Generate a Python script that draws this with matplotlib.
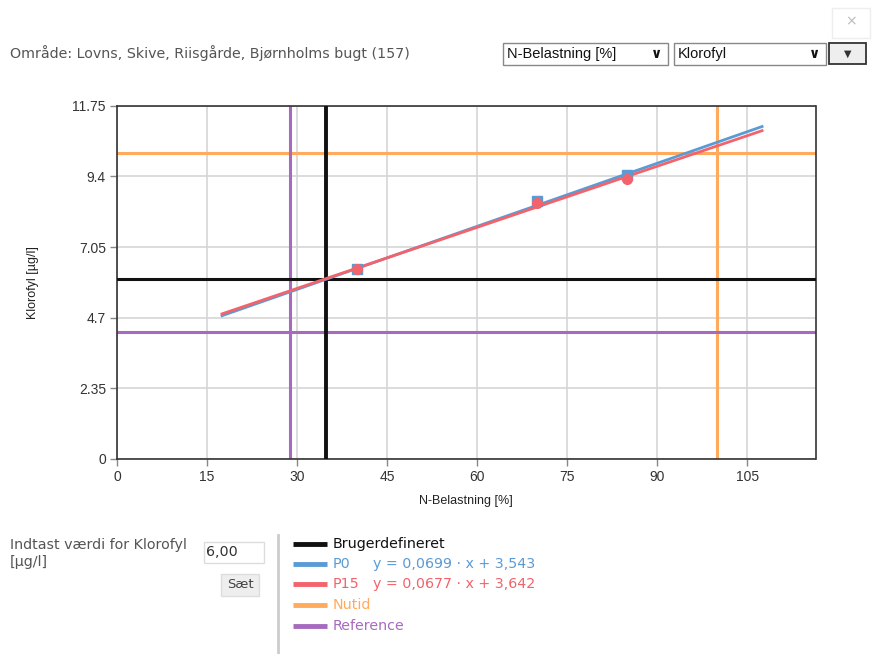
import matplotlib
matplotlib.use("Agg")
import matplotlib.pyplot as plt
from matplotlib.patches import Rectangle
from matplotlib.lines import Line2D
import numpy as np

# ---- data ----
x_ticks = [0, 15, 30, 45, 60, 75, 90, 105]
y_ticks = [0, 2.35, 4.7, 7.05, 9.4, 11.75]
y_tick_labels = ["0", "2.35", "4.7", "7.05", "9.4", "11.75"]
x_max = 116.4
y_max = 11.75

point_x = [40, 70, 85]
p0_points = [6.33, 8.59, 9.44]
p15_points = [6.32, 8.51, 9.31]

p0_coef = (0.0699, 3.543)
p15_coef = (0.0677, 3.642)
line_x_range = [17.5, 107.5]

brugerdef_x = 34.9
brugerdef_y = 6.0
nutid_x = 100.0
nutid_y = 10.17
reference_x = 28.8
reference_y = 4.21

C_BLACK = "#111111"
C_P0 = "#5b9bd5"
C_P15 = "#f2636b"
C_NUTID = "#ffaa5c"
C_REF = "#a66bbe"

narrow = "Liberation Sans"
ui_font = "DejaVu Sans"
UI_SIZE = 10.3

W, H = 872, 654
fig = plt.figure(figsize=(W / 100, H / 100), dpi=100)

def fx(px):
    return px / W

def fy(py):
    return 1 - py / H

ax = fig.add_axes([fx(117), fy(459), fx(815.5) - fx(117), fy(105.7) - fy(459)])
ax.set_xlim(0, x_max)
ax.set_ylim(0, y_max)
ax.set_xticks(x_ticks)
ax.set_yticks(y_ticks)
ax.set_yticklabels(y_tick_labels)
ax.grid(True, color="#d6d6d6", linewidth=1.2, zorder=0)
for s in ax.spines.values():
    s.set_color("#333333")
    s.set_linewidth(1.2)
ax.tick_params(axis="both", colors="#888888", labelcolor="#333333", length=5, width=1,
               labelsize=10, pad=3)
for lab in ax.get_xticklabels() + ax.get_yticklabels():
    lab.set_fontfamily(narrow)

# reference lines
ax.axhline(nutid_y, color=C_NUTID, lw=2.2, zorder=2)
ax.axvline(nutid_x, color=C_NUTID, lw=2.2, zorder=2)
ax.axhline(reference_y, color=C_REF, lw=2.2, zorder=2)
ax.axvline(reference_x, color=C_REF, lw=2.2, zorder=2)
ax.axhline(brugerdef_y, color=C_BLACK, lw=2.2, zorder=3)
ax.axvline(brugerdef_x, color=C_BLACK, lw=2.8, zorder=3)

# regression lines
lx = np.array(line_x_range)
ax.plot(lx, p0_coef[0] * lx + p0_coef[1], color=C_P0, lw=2.0, zorder=4)
ax.plot(lx, p15_coef[0] * lx + p15_coef[1], color=C_P15, lw=2.0, zorder=5)
ax.plot(point_x, p0_points, ls="none", marker="s", ms=7, color=C_P0, zorder=6)
ax.plot(point_x, p15_points, ls="none", marker="o", ms=7, color=C_P15, zorder=7)

ax.set_xlabel("N-Belastning [%]", fontfamily=narrow, fontsize=9, color="#222222", labelpad=8)
ax.set_ylabel("Klorofyl [µg/l]", fontfamily=narrow, fontsize=9, color="#222222", labelpad=24)

# ---- header ----
fig.text(fx(10), fy(53), "Område: Lovns, Skive, Riisgårde, Bjørnholms bugt (157)",
         fontfamily=ui_font, fontsize=UI_SIZE, color="#555555", va="center", ha="left")

def box(x0, y0, x1, y1, ec="#888888", fc="white", lw=1.0):
    r = Rectangle((fx(x0), fy(y1)), fx(x1) - fx(x0), fy(y0) - fy(y1),
                  transform=fig.transFigure, ec=ec, fc=fc, lw=lw)
    fig.add_artist(r)

box(503, 43, 668, 65)
fig.text(fx(507), fy(54), "N-Belastning [%]", fontfamily=narrow, fontsize=10.5, color="#111111", va="center")
fig.text(fx(657), fy(54), "\u2228", fontfamily=ui_font, fontsize=10, color="#111111", va="center", ha="center", fontweight="bold")
box(674, 43, 826, 65)
fig.text(fx(678), fy(54), "Klorofyl", fontfamily=narrow, fontsize=10.5, color="#111111", va="center")
fig.text(fx(815), fy(54), "\u2228", fontfamily=ui_font, fontsize=10, color="#111111", va="center", ha="center", fontweight="bold")
box(829, 43, 866, 64, ec="#333333", fc="#eeeeee", lw=1.3)
fig.text(fx(847.5), fy(53.5), "\u25bc", fontfamily=ui_font, fontsize=7, color="#333333", va="center", ha="center")
box(832, 8, 870, 38, ec="#eeeeee", fc="white")
fig.text(fx(851), fy(21), "\u00d7", fontfamily=ui_font, fontsize=10, color="#bbbbbb", va="center", ha="center")

# ---- bottom left input ----
fig.text(fx(10), fy(545), "Indtast værdi for Klorofyl", fontfamily=ui_font, fontsize=UI_SIZE, color="#555555", va="center")
fig.text(fx(10), fy(562), "[µg/l]", fontfamily=ui_font, fontsize=UI_SIZE, color="#555555", va="center")
box(204, 542, 264, 563, ec="#dddddd")
fig.text(fx(206), fy(552.5), "6,00", fontfamily=ui_font, fontsize=UI_SIZE, color="#333333", va="center")
box(221, 574, 259, 596, ec="#dddddd", fc="#eeeeee")
fig.text(fx(240), fy(585), "Sæt", fontfamily=ui_font, fontsize=9.5, color="#444444", va="center", ha="center")

# separator
fig.add_artist(Line2D([fx(278), fx(278)], [fy(535), fy(654)], transform=fig.transFigure,
                      color="#cccccc", lw=2))

# ---- legend ----
legend_items = [
    (C_BLACK, "Brugerdefineret", None, "#111111"),
    (C_P0, "P0", "y = 0,0699 \u00b7 x + 3,543", C_P0),
    (C_P15, "P15", "y = 0,0677 \u00b7 x + 3,642", C_P15),
    (C_NUTID, "Nutid", None, C_NUTID),
    (C_REF, "Reference", None, C_REF),
]
leg_y = [544, 564, 584, 605, 626]
for (c, name, eq, tc), yy in zip(legend_items, leg_y):
    fig.add_artist(Line2D([fx(293), fx(327)], [fy(yy), fy(yy)], transform=fig.transFigure,
                          color=c, lw=3.5, solid_capstyle="butt"))
    fig.text(fx(333), fy(yy), name, fontfamily=ui_font, fontsize=UI_SIZE, color=tc, va="center")
    if eq:
        fig.text(fx(373), fy(yy), eq, fontfamily=ui_font, fontsize=UI_SIZE, color=tc, va="center")

fig.savefig("out.png", dpi=100)
